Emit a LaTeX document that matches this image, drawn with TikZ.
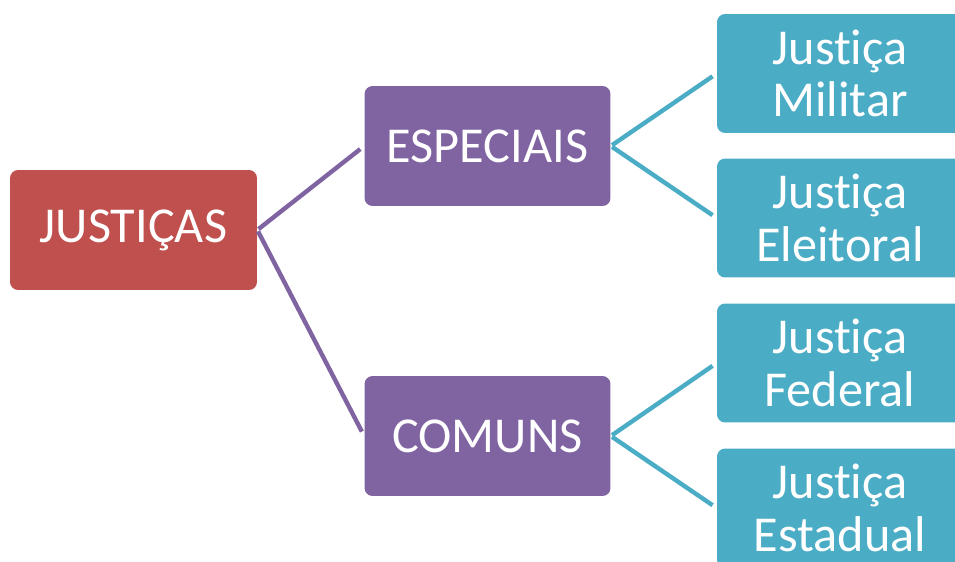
\documentclass[tikz,border=0pt]{standalone}
\usepackage{fontspec}
\setmainfont{Carlito}[Ligatures=NoCommon]
\usetikzlibrary{positioning}
\definecolor{RedBox}{HTML}{C0504D}
\definecolor{PurpleBox}{HTML}{8064A2}
\definecolor{TealBox}{HTML}{4BACC6}

\begin{document}
\begin{tikzpicture}[x=0.02cm,y=-0.02cm,
  box/.style={rounded corners=0.16cm, text=white, minimum width=4.92cm, minimum height=2.4cm, inner sep=0pt, align=center, font=\fontsize{28.6}{30}\selectfont},
  link/.style={line width=2.5pt, shorten <=0.03cm, shorten >=0.1cm}]
  \clip (0,0) rectangle (955,561);

  \node[box, fill=RedBox, minimum width=4.94cm] (just) at (133.5,230) {JUSTIÇAS};
  \node[box, fill=PurpleBox] (esp) at (487.5,146) {ESPECIAIS};
  \node[box, fill=PurpleBox] (com) at (487.5,436) {COMUNS};

  \foreach \name/\y/\txt in {mil/73.5/Militar, ele/218/Eleitoral, fed/363/Federal, est/508/Estadual}
    \node[box, fill=TealBox, minimum height=2.38cm] (\name) at (840,\y) {Justiça\\\txt};

  \draw[link, PurpleBox] (just.east) -- (esp.west);
  \draw[link, PurpleBox] (just.east) -- (com.west);
  \draw[link, TealBox] (esp.east) -- (mil.west);
  \draw[link, TealBox] (esp.east) -- (ele.west);
  \draw[link, TealBox] (com.east) -- (fed.west);
  \draw[link, TealBox] (com.east) -- (est.west);
\end{tikzpicture}
\end{document}
